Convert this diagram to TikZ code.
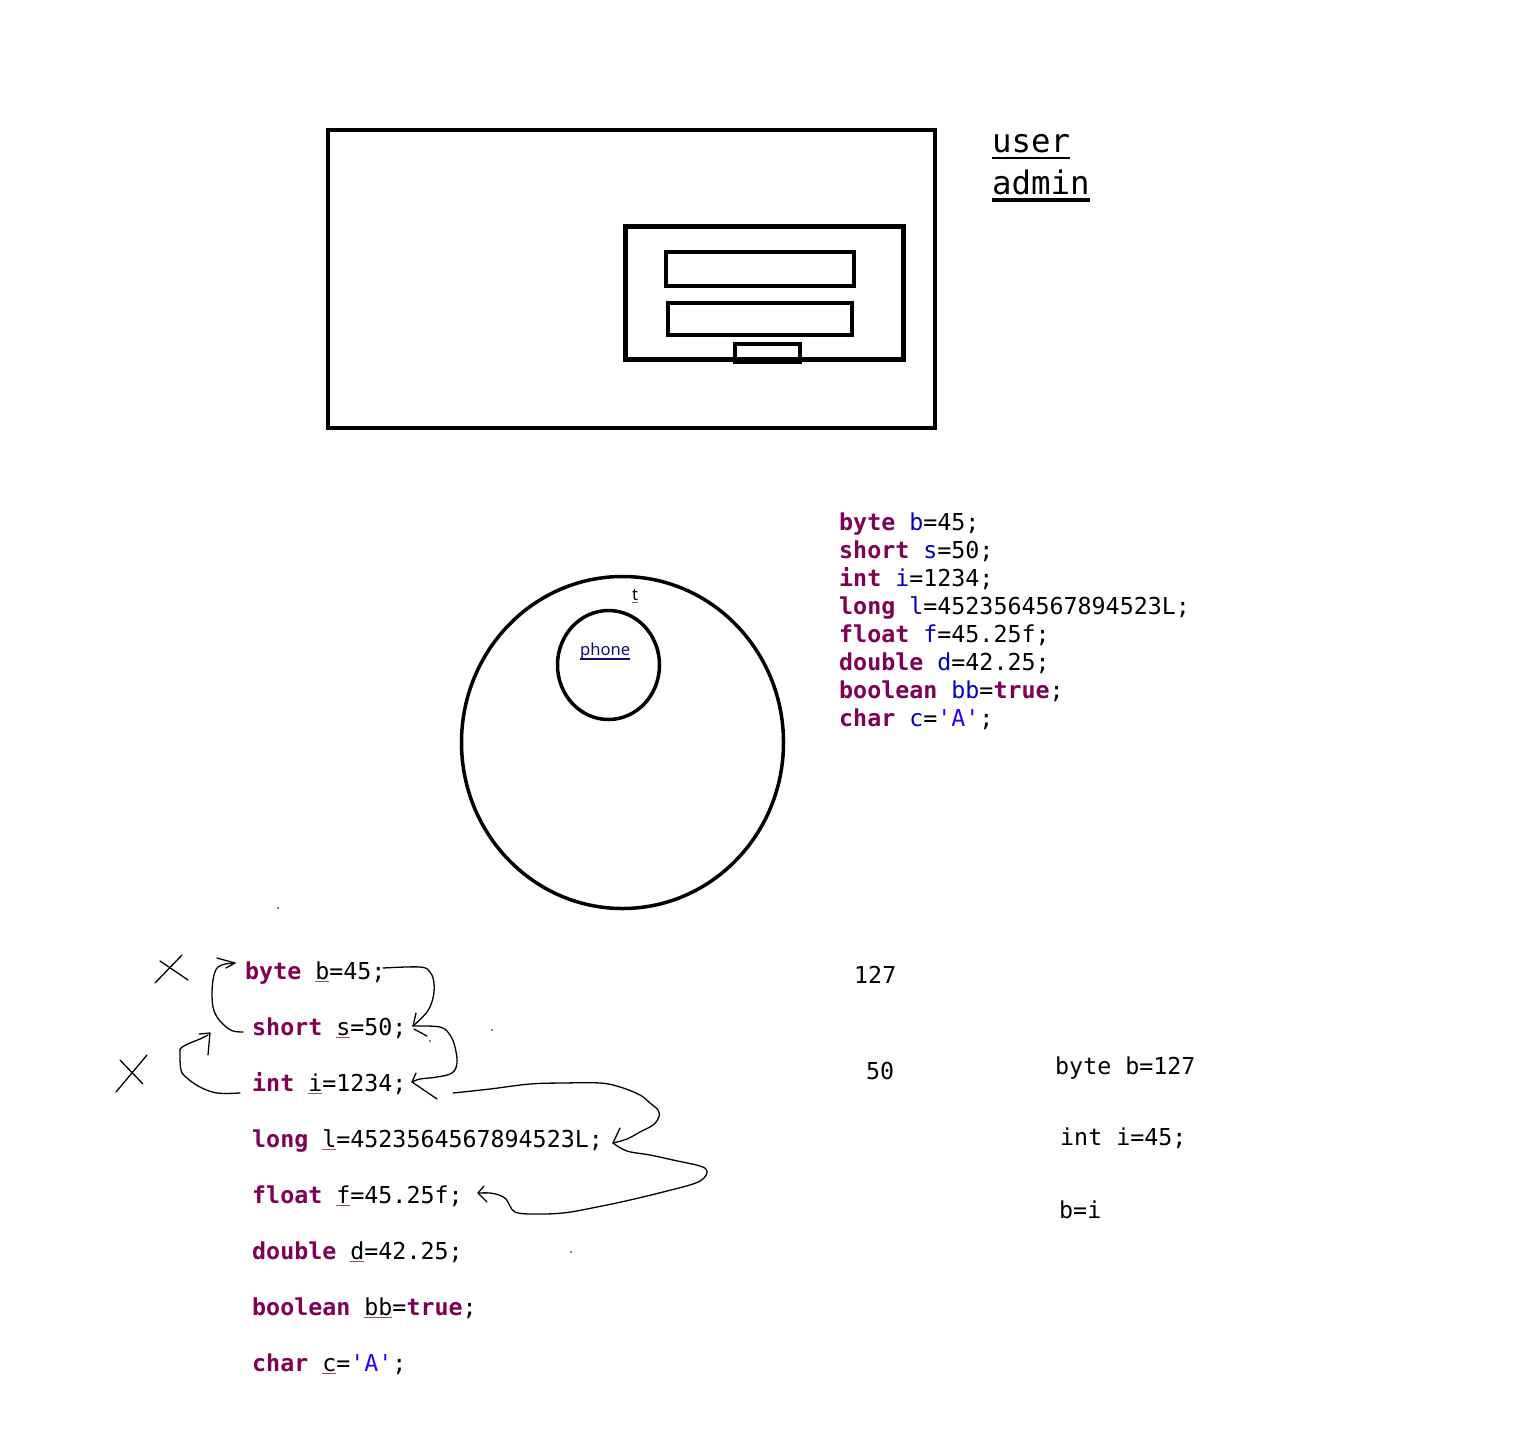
\documentclass[tikz,border=0pt]{standalone}
\usepackage{fontspec}
\newfontfamily\codefont{DejaVu Sans Mono}
\newfontfamily\uifont{Noto Sans}
\definecolor{kw}{HTML}{7F0055}
\definecolor{vr}{HTML}{0000C0}
\definecolor{st}{HTML}{2A00FF}
\definecolor{ulc}{HTML}{8C5A46}
\definecolor{lnk}{HTML}{101070}
\newcommand\myul[4]{\setbox0\hbox{#4}\rlap{\color{#1}\rule[-#3]{\wd0}{#2}}\box0}
\newcommand\kwd[1]{{\bfseries\color{kw}#1}}
\newcommand\vrb[1]{{\color{vr}#1}}
\newcommand\strl[1]{{\color{st}#1}}
\newcommand\uln[1]{\myul{ulc}{1.4pt}{3.4pt}{#1}}
\newcommand\sq{\textquotesingle}
\tikzset{
  codetxt/.style={anchor=base west, inner sep=0pt, font=\codefont\fontsize{23.3}{28}\selectfont},
  bigtxt/.style={anchor=base west, inner sep=0pt, font=\codefont\fontsize{32.4}{38}\selectfont},
  uitxt/.style={anchor=base west, inner sep=0pt, font=\uifont\fontsize{16.6}{20}\selectfont},
  boxline/.style={draw=black, line width=4pt},
  ringline/.style={draw=black, line width=3.5pt},
  ink/.style={draw=black, line width=1.3pt, line cap=round, line join=round},
}
\begin{document}
\begin{tikzpicture}[x=1pt,y=-1pt]
\useasboundingbox (0,0) rectangle (1523,1449);
\fill[white] (0,0) rectangle (1523,1449);

% login window sketch
\draw[boxline] (328,130) rectangle (935,428);
\draw[boxline, line width=4.5pt] (625.5,226.5) rectangle (903.5,359.5);
\draw[boxline] (666,252) rectangle (854,286);
\draw[boxline] (668,303) rectangle (852,335);
\draw[boxline] (735,344) rectangle (800,362);

\node[bigtxt] (user) at (992,152) {\myul{black}{2.8pt}{7.3pt}{user}};
\node[bigtxt] (admin) at (992,194) {\myul{black}{3.3pt}{7.5pt}{admin}};

% circles
\draw[ringline] (622.5,742.5) ellipse [x radius=161, y radius=166];
\draw[ringline] (608.5,665) ellipse [x radius=51, y radius=54.5];
\node[uitxt, text=black] (tlab) at (632,600) {\myul{ulc}{1.3pt}{3.2pt}{t}};
\node[uitxt, text=lnk] (phone) at (580,655) {\myul{lnk}{1.3pt}{4.6pt}{phone}};

% right code block
\node[codetxt] (r1) at (839,530) {\kwd{byte} \vrb{b}=45;};
\node[codetxt] (r2) at (839,558) {\kwd{short} \vrb{s}=50;};
\node[codetxt] (r3) at (839,586) {\kwd{int} \vrb{i}=1234;};
\node[codetxt] (r4) at (839,614) {\kwd{long} \vrb{l}=4523564567894523L;};
\node[codetxt] (r5) at (839,642) {\kwd{float} \vrb{f}=45.25f;};
\node[codetxt] (r6) at (839,670) {\kwd{double} \vrb{d}=42.25;};
\node[codetxt] (r7) at (839,698) {\kwd{boolean} \vrb{bb}=\kwd{true};};
\node[codetxt] (r8) at (839,726) {\kwd{char} \vrb{c}=\strl{\sq A\sq};};

% bottom code block
\node[codetxt] (b1) at (245,979) {\kwd{byte} \uln{b}=45;};
\node[codetxt] (b2) at (252,1035) {\kwd{short} \uln{s}=50;};
\node[codetxt] (b3) at (252,1091) {\kwd{int} \uln{i}=1234;};
\node[codetxt] (b4) at (252,1147) {\kwd{long} \uln{l}=4523564567894523L;};
\node[codetxt] (b5) at (252,1203) {\kwd{float} \uln{f}=45.25f;};
\node[codetxt] (b6) at (252,1259) {\kwd{double} \uln{d}=42.25;};
\node[codetxt] (b7) at (252,1315) {\kwd{boolean} \uln{bb}=\kwd{true};};
\node[codetxt] (b8) at (252,1371) {\kwd{char} \uln{c}=\strl{\sq A\sq};};

% right bottom notes
\node[codetxt] (n127) at (854,983) {127};
\node[codetxt] (n50) at (866,1079) {50};
\node[codetxt] (nb) at (1055,1074) {byte b=127};
\node[codetxt] (ni) at (1060,1145) {int i=45;};
\node[codetxt] (nbi) at (1059,1218) {b=i};

% hand-drawn crosses
\draw[ink] (155,983) -- (182,955);
\draw[ink] (160,961) -- (188,980);
\draw[ink] (116,1092) -- (147,1055);
\draw[ink] (120,1060) -- (143,1084);

% hand-drawn arrows
\coordinate (pa0) at (383,968);
\coordinate (pa1) at (413,1026);
\draw[ink] plot[smooth, tension=0.6] coordinates {(pa0) (420,967) (430,972) (434,983) (433,998) (427,1012) (pa1)};
\draw[ink] (416,1013) -- (pa1);
\draw[ink] (414,1029) -- (427,1036);
\fill (430,1041) circle (0.8);

\coordinate (pb1) at (412,1082);
\draw[ink] plot[smooth, tension=0.6] coordinates {(pa1) (440,1027) (450,1035) (455,1047) (457,1063) (452,1073) (437,1077) (420,1079) (pb1)};
\draw[ink] (416,1073) -- (pb1) -- (437,1099);

\coordinate (pc0) at (453,1093);
\coordinate (pc1) at (613,1143);
\draw[ink] plot[smooth, tension=0.6] coordinates {(pc0) (490,1089) (530,1084) (563,1083) (600,1083) (620,1087) (640,1095) (650,1103) (658,1110) (659,1117) (653,1125) (640,1132) (627,1139) (pc1)};
\draw[ink] (620,1128) -- (pc1);

\coordinate (pd1) at (478,1193);
\draw[ink] plot[smooth, tension=0.6] coordinates {(pc1) (627,1151) (650,1155) (673,1160) (700,1166) (707,1171) (704,1178) (693,1184) (663,1192) (630,1200) (597,1207) (563,1213) (530,1214) (515,1212) (510,1206) (506,1199) (499,1195) (490,1193) (pd1)};
\draw[ink] (484,1186) -- (pd1) -- (487,1202);

\coordinate (pe0) at (240,1093);
\coordinate (pe1) at (208,1035);
\draw[ink] plot[smooth, tension=0.6] coordinates {(pe0) (217,1093) (200,1087) (187,1078) (181,1070) (180,1053) (181,1048) (190,1043) (200,1039) (pe1)};
\draw[ink] (199,1034) -- (210,1033) -- (208,1055);

\coordinate (pf0) at (243,1032);
\coordinate (pf1) at (235,963);
\draw[ink] plot[smooth, tension=0.6] coordinates {(pf0) (233,1031) (225,1026) (217,1017) (213,1007) (212,993) (213,980) (215,972) (218,967) (225,964) (pf1)};
\draw[ink] (217,958) -- (pf1) -- (226,968);

% stray dots
\fill (278,908) circle (0.8);
\fill (492,1030) circle (0.8);
\fill (571,1252) circle (0.8);
\end{tikzpicture}
\end{document}
